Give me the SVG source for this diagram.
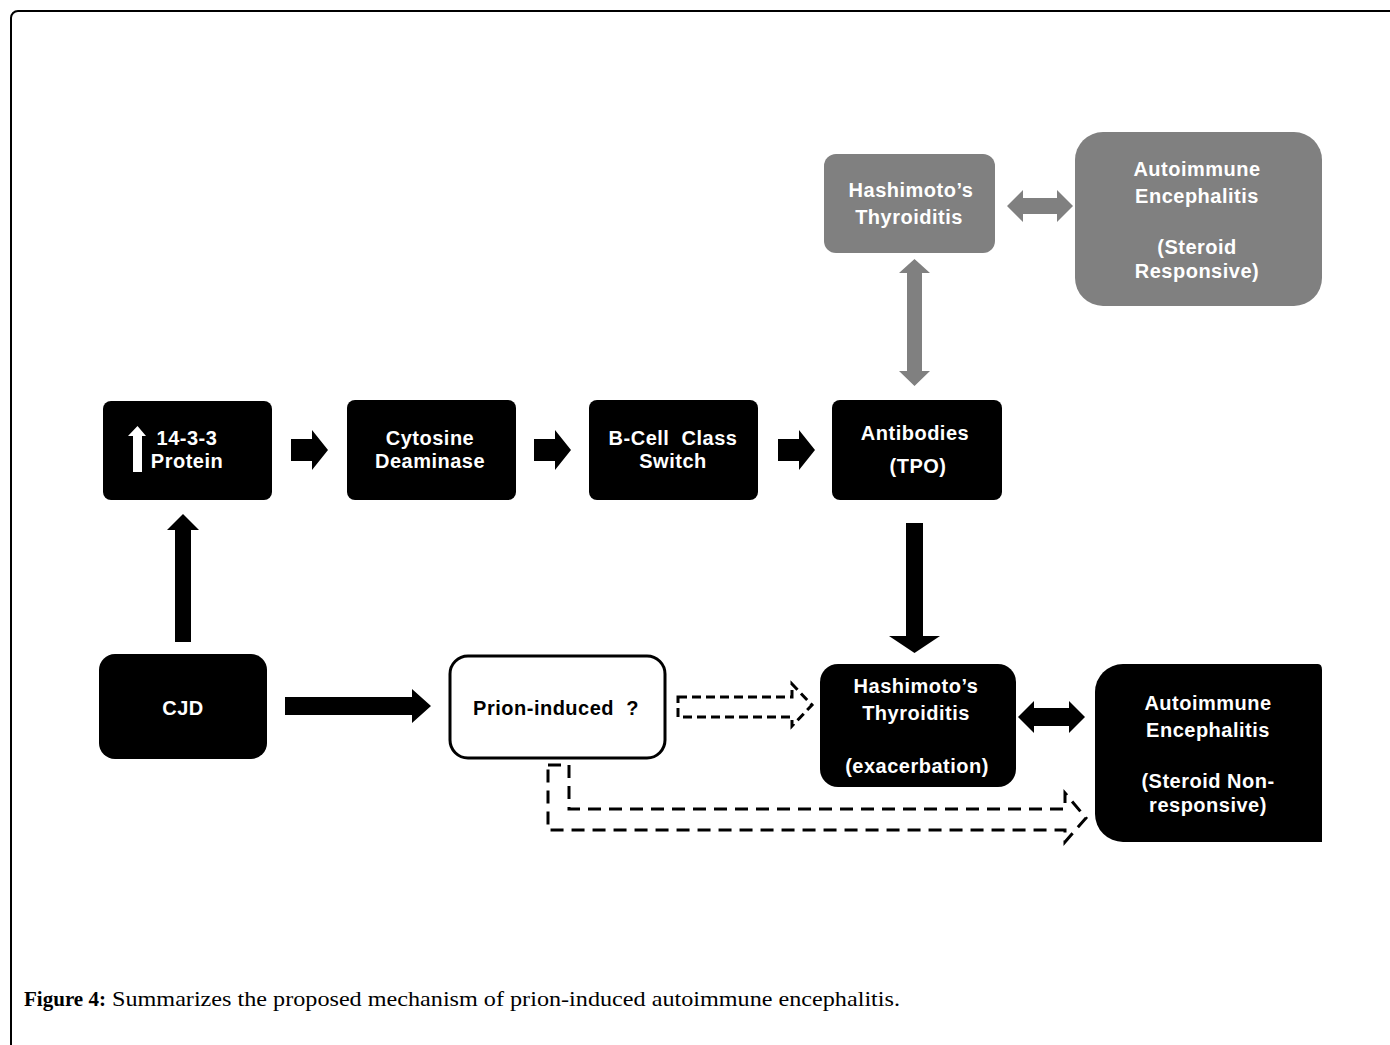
<svg xmlns="http://www.w3.org/2000/svg" width="1390" height="1045" viewBox="0 0 1390 1045">
<style>
.t{font-family:"Liberation Sans",Arial,sans-serif;font-weight:bold;font-size:20px;fill:#fff;text-anchor:middle;letter-spacing:0.5px}
.tb{fill:#000}
.blk{fill:#000}
.gry{fill:#808080}
.dash{fill:none;stroke:#000;stroke-width:3}
.cap{font-family:"Liberation Serif","Times New Roman",serif;font-size:22px;fill:#000}
</style>
<rect x="0" y="0" width="1390" height="1045" fill="#fff"/>
<rect x="11" y="11" width="1420" height="1100" rx="7" fill="none" stroke="#000" stroke-width="2"/>

<g id="connectors">
  <!-- top row right arrows -->
  <polygon class="blk" points="291,439 312,439 312,430 328,450 312,470 312,461 291,461"/>
  <polygon class="blk" points="534,439 555,439 555,430 571,450 555,470 555,461 534,461"/>
  <polygon class="blk" points="778,439 799,439 799,430 815,450 799,470 799,461 778,461"/>
  <!-- CJD up -->
  <polygon class="blk" points="175,642 175,530 167,530 183,514 199,530 191,530 191,642"/>
  <!-- CJD right -->
  <polygon class="blk" points="285,697 412,697 412,689 431,706 412,723 412,715 285,715"/>
  <!-- Antibodies down -->
  <polygon class="blk" points="906,523 923,523 923,636 940,636 914.5,653 889,636 906,636"/>
  <!-- gray vertical double -->
  <polygon class="gry" points="914.5,259 930,273 922,273 922,371 930,371 914.5,386 899,371 907,371 907,273 899,273"/>
  <!-- gray horizontal double -->
  <polygon class="gry" points="1007,206 1023,190 1023,198 1057,198 1057,190 1073,206 1057,222 1057,214 1023,214 1023,222"/>
  <!-- black horizontal double -->
  <polygon class="blk" points="1018,717 1034,701 1034,708 1069,708 1069,701 1085,717 1069,733 1069,726 1034,726 1034,733"/>
  <!-- dashed block arrow -->
  <polygon class="dash" stroke-dasharray="9,5" stroke-width="3.5" points="678,697 792,697 792,684 812,705 792,726 792,717 678,717"/>
  <!-- dashed L arrow -->
  <polygon class="dash" stroke-dasharray="13,8" points="548,765 569,765 569,809 1065,809 1065,793 1086,818 1065,842 1065,830 548,830"/>
</g>

<g id="n-1433">
  <rect class="blk" x="103" y="401" width="169" height="99" rx="8"/>
  <polygon fill="#fff" points="133,472 133,436 128,436 137.5,426 146,436 142,436 142,472"/>
  <text class="t" x="187" y="445">14-3-3</text>
  <text class="t" x="187" y="468">Protein</text>
</g>
<g id="n-cytosine">
  <rect class="blk" x="347" y="400" width="169" height="100" rx="8"/>
  <text class="t" x="430" y="445">Cytosine</text>
  <text class="t" x="430" y="468">Deaminase</text>
</g>
<g id="n-bcell">
  <rect class="blk" x="589" y="400" width="169" height="100" rx="8"/>
  <text class="t" x="673" y="445" xml:space="preserve">B-Cell  Class</text>
  <text class="t" x="673" y="468">Switch</text>
</g>
<g id="n-antibodies">
  <rect class="blk" x="832" y="400" width="170" height="100" rx="8"/>
  <text class="t" x="915" y="440">Antibodies</text>
  <text class="t" x="918" y="473">(TPO)</text>
</g>
<g id="n-hashi-gray">
  <rect class="gry" x="824" y="154" width="171" height="99" rx="12"/>
  <text class="t" x="911" y="197">Hashimoto’s</text>
  <text class="t" x="909" y="224">Thyroiditis</text>
</g>
<g id="n-ae-responsive">
  <rect class="gry" x="1075" y="132" width="247" height="174" rx="28"/>
  <text class="t" x="1197" y="176">Autoimmune</text>
  <text class="t" x="1197" y="203">Encephalitis</text>
  <text class="t" x="1197" y="254">(Steroid</text>
  <text class="t" x="1197" y="278">Responsive)</text>
</g>
<g id="n-cjd">
  <rect class="blk" x="99" y="654" width="168" height="105" rx="16"/>
  <text class="t" x="183" y="715">CJD</text>
</g>
<g id="n-prion">
  <rect x="450" y="656" width="215" height="102" rx="18" fill="#fff" stroke="#000" stroke-width="3"/>
  <text class="t tb" x="556" y="715" xml:space="preserve">Prion-induced  ?</text>
</g>
<g id="n-hashi-exac">
  <rect class="blk" x="820" y="664" width="196" height="123" rx="18"/>
  <text class="t" x="916" y="693">Hashimoto’s</text>
  <text class="t" x="916" y="720">Thyroiditis</text>
  <text class="t" x="917" y="773">(exacerbation)</text>
</g>
<g id="n-ae-nonresponsive">
  <path class="blk" d="M1123,664 H1318 Q1322,664 1322,670 V842 H1123 A28,28 0 0 1 1095,814 V692 A28,28 0 0 1 1123,664 Z"/>
  <text class="t" x="1208" y="710">Autoimmune</text>
  <text class="t" x="1208" y="737">Encephalitis</text>
  <text class="t" x="1208" y="788">(Steroid Non-</text>
  <text class="t" x="1208" y="812">responsive)</text>
</g>

<g id="caption">
  <text class="cap" x="24" y="1006" font-weight="bold" textLength="82" lengthAdjust="spacingAndGlyphs">Figure 4:</text>
  <text class="cap" x="112" y="1006" textLength="788" lengthAdjust="spacingAndGlyphs">Summarizes the proposed mechanism of prion-induced autoimmune encephalitis.</text>
</g>
</svg>
